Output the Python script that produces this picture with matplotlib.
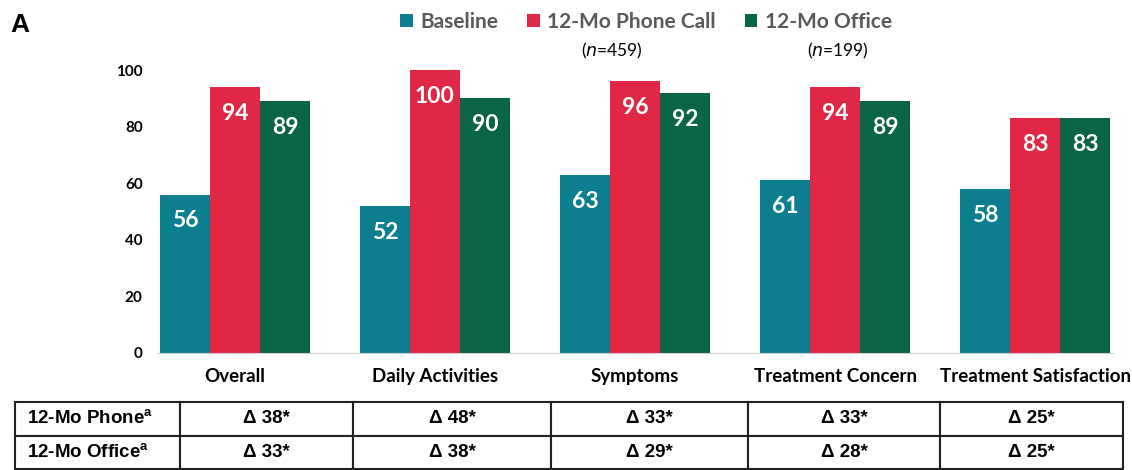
import numpy as np
import matplotlib.pyplot as plt

categories = ['Overall', 'Daily Activities', 'Symptoms', 'Treatment Concern', 'Treatment Satisfaction']
baseline = [56, 52, 63, 61, 58]
phone = [94, 100, 96, 94, 83]
office = [89, 90, 92, 89, 83]
series_names = ['Baseline', '12-Mo Phone Call', '12-Mo Office']
series_n = ['', '459', '199']
row_labels = ['12-Mo Phone', '12-Mo Office']
delta_phone = [38, 48, 33, 33, 25]
delta_office = [33, 38, 29, 28, 25]

colors = ['#0b7f8f', '#e02846', '#0a6446']
W, H = 1132, 470
fig = plt.figure(figsize=(W / 100, H / 100), dpi=100)
plt.rcParams['font.family'] = ['Lato', 'DejaVu Sans']

ax = fig.add_axes([158 / W, 1 - 353 / H, (1113 - 158) / W, (353 - 70) / H])
x = np.arange(len(categories))
bw = 0.25
for i, vals in enumerate([baseline, phone, office]):
    bars = ax.bar(x + (i - 1) * bw, vals, bw, color=colors[i], label=series_names[i])
    for b, v in zip(bars, vals):
        ax.annotate(str(v), (b.get_x() + b.get_width() / 2, v), xytext=(0, -19),
                    textcoords='offset points', ha='center', va='center',
                    color='white', fontsize=16.5, fontweight='bold')

ax.set_ylim(0, 100)
ax.set_xlim(-0.385, 4.39)
ax.set_yticks(range(0, 101, 20))
ax.set_xticks(x)
ax.set_xticklabels(categories, fontsize=13.5, fontweight='bold')
for lab in ax.get_yticklabels():
    lab.set_fontweight('bold')
    lab.set_fontsize(11)
ax.tick_params(axis='y', length=0, pad=11)
ax.tick_params(axis='x', length=0, pad=11)
for s in ['top', 'right', 'left']:
    ax.spines[s].set_visible(False)
ax.spines['bottom'].set_color('#d0d0d0')

# legend
leg = fig.legend(loc='upper center', bbox_to_anchor=(646 / W, 1 - 12 / H), ncol=3,
                 frameon=False, handlelength=0.6, handleheight=0.6, handletextpad=0.35,
                 columnspacing=1.4, borderaxespad=0, borderpad=0,
                 prop={'weight': 'bold', 'size': 15})
for t in leg.get_texts():
    t.set_color('#58595b')
fig.text(612 / W, 1 - 51 / H, '($n$=%s)' % series_n[1], ha='center', va='center', fontsize=12.5)
fig.text(838 / W, 1 - 51 / H, '($n$=%s)' % series_n[2], ha='center', va='center', fontsize=12.5)
fig.text(10 / W, 1 - 25 / H, 'A', ha='left', va='center', fontsize=19, fontweight='bold',
         family=['Liberation Sans'])

# table
tax = fig.add_axes([15 / W, 1 - 469 / H, (1123 - 15) / W, (469 - 402) / H])
tax.axis('off')
cells = [[row_labels[0] + r'$^{\mathregular{a}}$'] + ['Δ %d*' % d for d in delta_phone],
         [row_labels[1] + r'$^{\mathregular{a}}$'] + ['Δ %d*' % d for d in delta_office]]
edges = [15, 180, 353, 551, 748, 940, 1123]
cw = np.diff(edges) / (edges[-1] - edges[0])
tbl = tax.table(cellText=cells, colWidths=cw, bbox=[0, 0, 1, 1], cellLoc='center')
tbl.auto_set_font_size(False)
for (r, c), cell in tbl.get_celld().items():
    cell.set_linewidth(1.5)
    cell.set_edgecolor('#222222')
    t = cell.get_text()
    t.set_fontsize(13.5)
    t.set_fontweight('bold')
    t.set_fontfamily('Liberation Sans')
    if c == 0:
        t.set_ha('left')
        cell.PAD = 0.07

fig.savefig('out.png', dpi=100)
